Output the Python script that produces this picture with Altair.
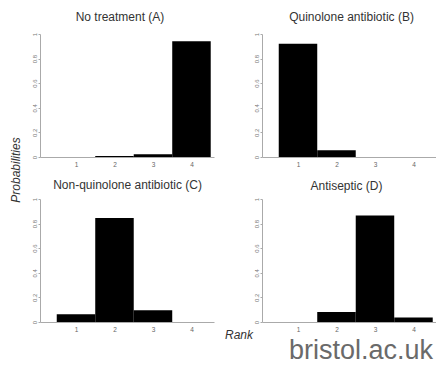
import altair as alt
import pandas as pd

ranks = [1, 2, 3, 4]
prob_a = [0.0, 0.008, 0.022, 0.941]
prob_b = [0.92, 0.054, 0.0, 0.0]
prob_c = [0.063, 0.845, 0.096, 0.0]
prob_d = [0.0, 0.082, 0.866, 0.036]
panel_titles = ["No treatment (A)", "Quinolone antibiotic (B)",
                "Non-quinolone antibiotic (C)", "Antiseptic (D)"]
y_ticks = [0, 0.2, 0.4, 0.6, 0.8, 1]
y_label = "Probabilities"
x_label = "Rank"
credit = "bristol.ac.uk"

W, H = 174, 123
FONT = "Liberation Sans"


def text_chart(text, x, y, **kw):
    return alt.Chart(pd.DataFrame({"t": [text]})).mark_text(font=FONT, **kw).encode(
        text="t:N", x=alt.value(x), y=alt.value(y))


def panel(probs, title, tx, ty, extras=()):
    df = pd.DataFrame({"rank": ranks, "prob": probs})
    bars = alt.Chart(df).transform_calculate(
        x0="datum.rank - 0.5", x1="datum.rank + 0.5"
    ).mark_rect(color="black").encode(
        x=alt.X("x0:Q",
                scale=alt.Scale(domain=[0.065, 4.585], nice=False, zero=False),
                axis=alt.Axis(values=ranks, format="d", title=None, ticks=False,
                              labelPadding=4, labelFontSize=6.5, labelColor="#666",
                              labelFont=FONT, domainColor="#aaa", domainWidth=1,
                              grid=False)),
        x2="x1:Q",
        y=alt.Y("prob:Q",
                scale=alt.Scale(domain=[0, 1], nice=False),
                axis=alt.Axis(values=y_ticks, format="~g", title=None,
                              labelAngle=270, labelAlign="center",
                              labelBaseline="bottom", labelPadding=1,
                              labelFontSize=6, labelColor="#777", labelFont=FONT,
                              tickSize=2, tickColor="#aaa", domainColor="#aaa",
                              domainWidth=1, grid=False)),
        y2=alt.datum(0),
    )
    ttl = text_chart(title, tx, ty, fontSize=12, color="#333",
                     align="center", baseline="alphabetic")
    return alt.layer(bars, ttl, *extras).properties(width=W, height=H)


pa = panel(prob_a, panel_titles[0], 80, -13)
pb = panel(prob_b, panel_titles[1], 89.5, -13)
pc = panel(prob_c, panel_titles[2], 87.5, -10.5,
           extras=[text_chart(y_label, -24, -29, angle=270, fontSize=12,
                              fontStyle="italic", color="#333",
                              align="center", baseline="middle")])
pd_ = panel(prob_d, panel_titles[3], 84.5, -9.5,
            extras=[text_chart(x_label, -23, 136, fontSize=12, fontStyle="italic",
                               color="#333", align="center", baseline="middle"),
                    text_chart(credit, 171, 160, fontSize=27, color="#6a6a6a",
                               align="right", baseline="alphabetic")])

chart = alt.concat(
    pa, pb, pc, pd_, columns=2, spacing={"row": 42, "column": 48}, bounds="flush"
).properties(
    autosize=alt.AutoSizeParams(type="none"),
    padding={"left": 32, "top": 26, "right": 396, "bottom": 332},
).configure_view(stroke=None).configure_axis(grid=False)

chart.save("out.html", embed_options={"renderer": "svg", "actions": False})
